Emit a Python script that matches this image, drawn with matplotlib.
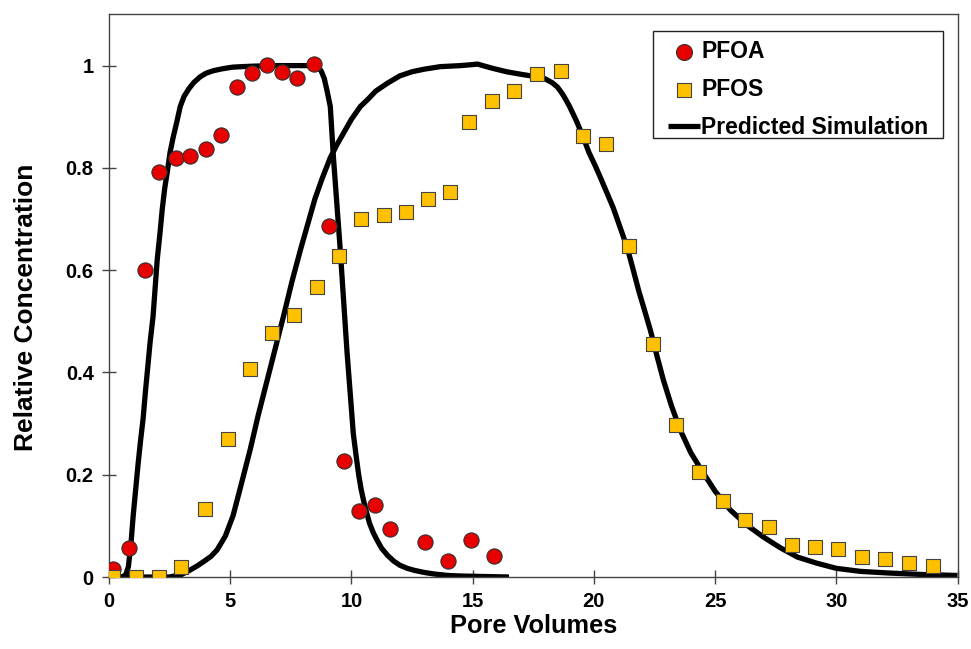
import matplotlib
matplotlib.use("Agg")
import matplotlib.pyplot as plt
from matplotlib.patches import Rectangle
from matplotlib.ticker import FormatStrFormatter

plt.rcParams["font.family"] = ["Liberation Sans", "DejaVu Sans"]
plt.rcParams["font.weight"] = "bold"

# Measured breakthrough data (relative concentration vs pore volumes)
pfoa_pv = [0.17, 0.83, 1.49, 2.07, 2.77, 3.35, 4.01, 4.63, 5.29, 5.91, 6.53, 7.14,
           7.76, 8.46, 9.08, 9.70, 10.32, 10.98, 11.6, 13.04, 13.99, 14.94, 15.89]
pfoa_c = [0.016, 0.057, 0.60, 0.792, 0.819, 0.823, 0.837, 0.864, 0.958, 0.986, 1.001, 0.988,
          0.976, 1.003, 0.686, 0.227, 0.129, 0.141, 0.094, 0.068, 0.031, 0.072, 0.041]

pfos_pv = [0.17, 1.12, 2.07, 2.98, 3.97, 4.92, 5.82, 6.73, 7.64, 8.59, 9.49, 10.4,
           11.35, 12.26, 13.17, 14.08, 14.86, 15.81, 16.72, 17.67, 18.66, 19.56, 20.51,
           21.46, 22.45, 23.4, 24.35, 25.34, 26.25, 27.24, 28.19, 29.14, 30.09, 31.08,
           32.03, 32.98, 33.97]
pfos_c = [0.0, 0.0, 0.0, 0.02, 0.133, 0.270, 0.407, 0.477, 0.512, 0.567, 0.628, 0.700,
          0.708, 0.714, 0.739, 0.753, 0.890, 0.931, 0.950, 0.984, 0.990, 0.862, 0.847,
          0.647, 0.456, 0.297, 0.205, 0.149, 0.111, 0.098, 0.063, 0.059, 0.055, 0.039,
          0.035, 0.027, 0.022]

# Model predictions
sim_pfoa_pv = [0.0, 0.55, 0.7, 0.8, 0.9, 1.0, 1.1, 1.2, 1.3, 1.41, 1.5, 1.6, 1.7, 1.82,
               1.99, 2.1, 2.2, 2.3, 2.4, 2.52, 2.65, 2.8, 2.94, 3.1, 3.3, 3.5, 3.76, 4.0,
               4.3, 4.7, 5.1, 5.5, 6.0, 7.0, 8.0, 8.4, 8.6, 8.75, 8.88, 9.0, 9.13, 9.26,
               9.4, 9.54, 9.68, 9.82, 9.95, 10.08, 10.2, 10.3, 10.4, 10.5, 10.62, 10.75,
               10.9, 11.06, 11.25, 11.5, 11.75, 12.0, 12.3, 12.6, 13.0, 13.4, 14.0, 14.5,
               15.5, 16.5]
sim_pfoa_c = [0.0, 0.0, 0.005, 0.02, 0.06, 0.12, 0.17, 0.22, 0.265, 0.31, 0.36, 0.41, 0.46,
              0.51, 0.62, 0.67, 0.72, 0.76, 0.79, 0.83, 0.86, 0.89, 0.92, 0.94, 0.955,
              0.967, 0.978, 0.985, 0.99, 0.994, 0.997, 0.998, 0.999, 1.0, 1.0, 1.0, 0.997,
              0.99, 0.975, 0.95, 0.92, 0.82, 0.73, 0.64, 0.54, 0.44, 0.36, 0.28, 0.235,
              0.2, 0.172, 0.15, 0.127, 0.105, 0.087, 0.072, 0.056, 0.042, 0.031, 0.023,
              0.017, 0.013, 0.009, 0.006, 0.003, 0.002, 0.001, 0.0]

sim_pfos_pv = [0.0, 2.5, 3.0, 3.36, 3.65, 3.9, 4.2, 4.46, 4.8, 5.12, 5.45, 5.83, 6.15,
               6.5, 6.85, 7.2, 7.55, 7.9, 8.2, 8.5, 8.8, 9.13, 9.4, 9.7, 10.0, 10.37,
               10.7, 11.0, 11.5, 12.0, 12.5, 13.0, 13.67, 14.5, 15.0, 15.2, 15.5, 15.8,
               16.4, 17.0, 17.66, 18.0, 18.3, 18.5, 18.7, 18.85, 19.0, 19.15, 19.3,
               19.56, 19.8, 20.05, 20.3, 20.55, 20.8, 21.0, 21.2, 21.4, 21.6, 21.85,
               22.1, 22.33, 22.6, 22.87, 23.2, 23.57, 24.0, 24.52, 25.0, 25.63, 26.3,
               27.0, 27.7, 28.4, 29.2, 30.0, 31.0, 32.1, 33.5, 35.0]
sim_pfos_c = [0.0, 0.0, 0.005, 0.014, 0.022, 0.03, 0.04, 0.053, 0.08, 0.12, 0.18, 0.25,
              0.315, 0.38, 0.445, 0.51, 0.578, 0.64, 0.69, 0.74, 0.78, 0.82, 0.845, 0.87,
              0.895, 0.92, 0.935, 0.95, 0.966, 0.98, 0.988, 0.993, 0.998, 1.0, 1.002,
              1.003, 0.999, 0.995, 0.988, 0.983, 0.978, 0.974, 0.966, 0.958, 0.945,
              0.933, 0.92, 0.905, 0.89, 0.86, 0.83, 0.805, 0.778, 0.75, 0.722, 0.695,
              0.668, 0.64, 0.605, 0.56, 0.52, 0.483, 0.433, 0.385, 0.335, 0.287, 0.243,
              0.203, 0.168, 0.131, 0.102, 0.078, 0.057, 0.039, 0.027, 0.017, 0.011,
              0.008, 0.005, 0.003]

fig = plt.figure(figsize=(9.71, 6.49), dpi=100)
ax = fig.add_axes([0.1122, 0.1109, 0.8739, 0.8668])

ax.plot(sim_pfoa_pv, sim_pfoa_c, color="black", lw=3.8, solid_capstyle="butt",
        solid_joinstyle="round", zorder=2, label="Predicted Simulation")
ax.plot(sim_pfos_pv, sim_pfos_c, color="black", lw=3.8, solid_capstyle="butt",
        solid_joinstyle="round", zorder=2)

ax.scatter(pfoa_pv, pfoa_c, s=120, marker="o", facecolor="#E60000",
           edgecolor="#333333", linewidth=0.8, zorder=3, label="PFOA")
ax.scatter(pfos_pv, pfos_c, s=92, marker="s", facecolor="#FFC000",
           edgecolor="#444444", linewidth=0.8, zorder=4, label="PFOS")

ax.set_xlim(0, 35)
ax.set_ylim(0, 1.1)
ax.set_xticks(range(0, 36, 5))
ax.set_yticks([0, 0.2, 0.4, 0.6, 0.8, 1.0])
ax.yaxis.set_major_formatter(FormatStrFormatter("%g"))
ax.tick_params(direction="inout", length=10, width=1, color="#444444",
               labelsize=14.5, pad=6)
for lab in ax.get_xticklabels() + ax.get_yticklabels():
    lab.set_fontweight("bold")
for sp in ax.spines.values():
    sp.set_color("#444444")
    sp.set_linewidth(1.0)

ax.set_xlabel("Pore Volumes", fontsize=18.3, fontweight="bold", labelpad=2)
ax.set_ylabel("Relative Concentration", fontsize=19, fontweight="bold", labelpad=20)
ax.yaxis.label.set_y(0.48)

# legend box: wider side padding than top/bottom, so the frame is drawn separately
ax.add_patch(Rectangle((0.641, 0.7804), 0.342, 0.1903, transform=ax.transAxes,
                       facecolor="white", edgecolor="#222222", lw=1.0, zorder=5))

handles, labels = ax.get_legend_handles_labels()
order = [labels.index("PFOA"), labels.index("PFOS"), labels.index("Predicted Simulation")]
leg = ax.legend([handles[i] for i in order], [labels[i] for i in order],
                loc="upper right", bbox_to_anchor=(0.9655, 0.955), borderaxespad=0,
                prop={"weight": "bold", "size": 16.5}, frameon=False,
                handlelength=1.4, handletextpad=0.05,
                labelspacing=0.67, borderpad=0, markerscale=1.05)
leg.set_zorder(6)

fig.savefig("out.png", dpi=100)
